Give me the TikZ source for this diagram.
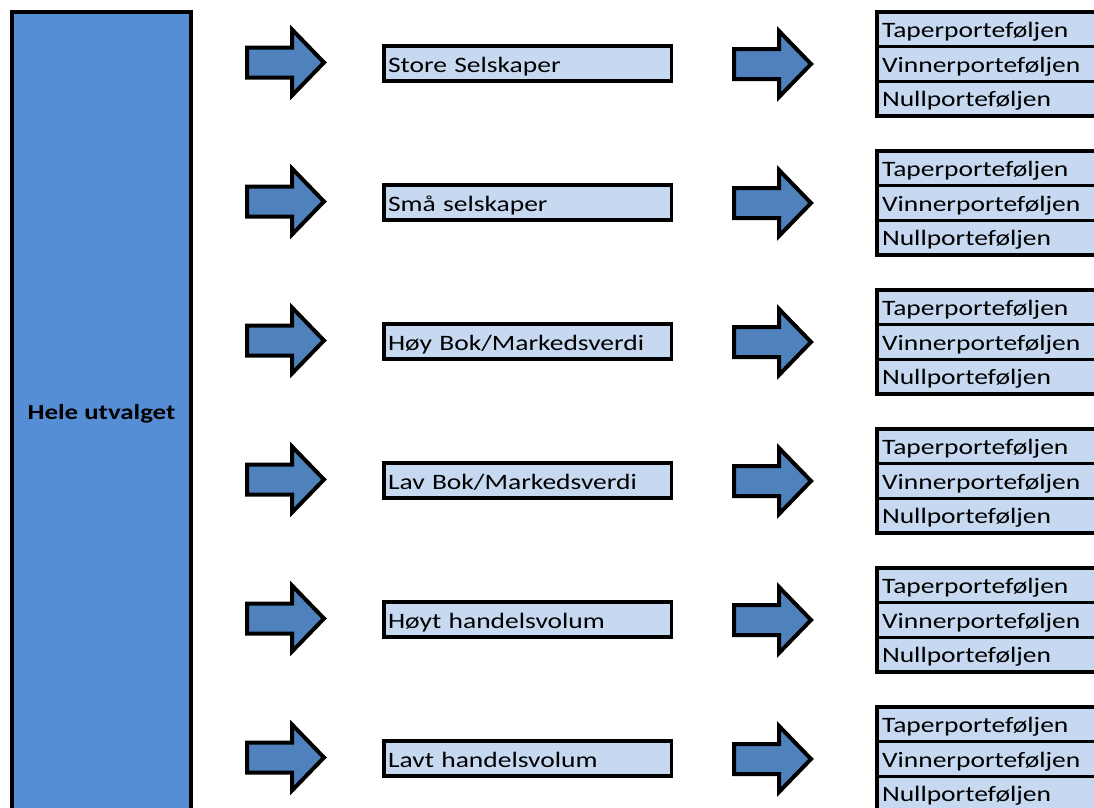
\documentclass[tikz,border=0pt]{standalone}
\usepackage{fontspec}
\setmainfont{Carlito}[FakeStretch=1.25]
\usepackage{tikz}
\usetikzlibrary{positioning}

\definecolor{hovedblaa}{HTML}{558ED5}
\definecolor{pilblaa}{HTML}{4F81BD}
\definecolor{lysblaa}{HTML}{C6D9F1}

\tikzset{
    hovedboks/.style={draw, line width=4pt, fill=hovedblaa, outer sep=0pt,
        font=\fontsize{21.5}{25}\bfseries, text height=15pt, text depth=5pt},
    gruppeboks/.style={draw, line width=3.5pt, fill=lysblaa, outer sep=0pt,
        minimum height=35pt, text width=279.5pt, inner xsep=4pt, align=left,
        font=\fontsize{22}{25}\selectfont, text height=21pt, text depth=3pt},
    portboks/.style={draw, line width=3.5pt, fill=lysblaa, outer sep=0pt,
        minimum height=34.7pt, text width=240pt, inner xsep=5pt, inner ysep=0pt, align=left,
        font=\fontsize{22}{25}\selectfont, text height=19pt, text depth=3pt},
    blokkpil/.pic={
        \draw[line width=4pt, fill=pilblaa, line join=miter]
            (0,-15) -- (45,-15) -- (45,-33) -- (77,0) -- (45,33) -- (45,15) -- (0,15) -- cycle;
    }
}

\begin{document}
\begin{tikzpicture}[x=1pt, y=-1pt]
    \useasboundingbox (0,0) rectangle (1094,807);
    \clip (0,0) rectangle (1094,807);

    % Hele utvalget
    \node[hovedboks, minimum width=179pt, minimum height=804pt] (hele) at (101.5,414) {Hele utvalget};

    % Grupper med piler og portefoljer
    \foreach \gruppe [count=\i] in {Store Selskaper, Små selskaper, Høy Bok/Markedsverdi,
                                    Lav Bok/Markedsverdi, Høyt handelsvolum, Lavt handelsvolum} {
        \pgfmathsetmacro{\dy}{139*(\i-1)}
        \pic at (247,62.5+\dy) {blokkpil};
        \node[gruppeboks, anchor=west] (grp\i) at (384,63.5+\dy) {\gruppe};
        \pic at (734,64+\dy) {blokkpil};
        \node[portboks, anchor=north west] (tap\i) at (877,12+\dy) {Taperporteføljen};
        \node[portboks, below=0pt of tap\i] (vin\i) {Vinnerporteføljen};
        \node[portboks, below=0pt of vin\i] (nul\i) {Nullporteføljen};
    }
\end{tikzpicture}
\end{document}
